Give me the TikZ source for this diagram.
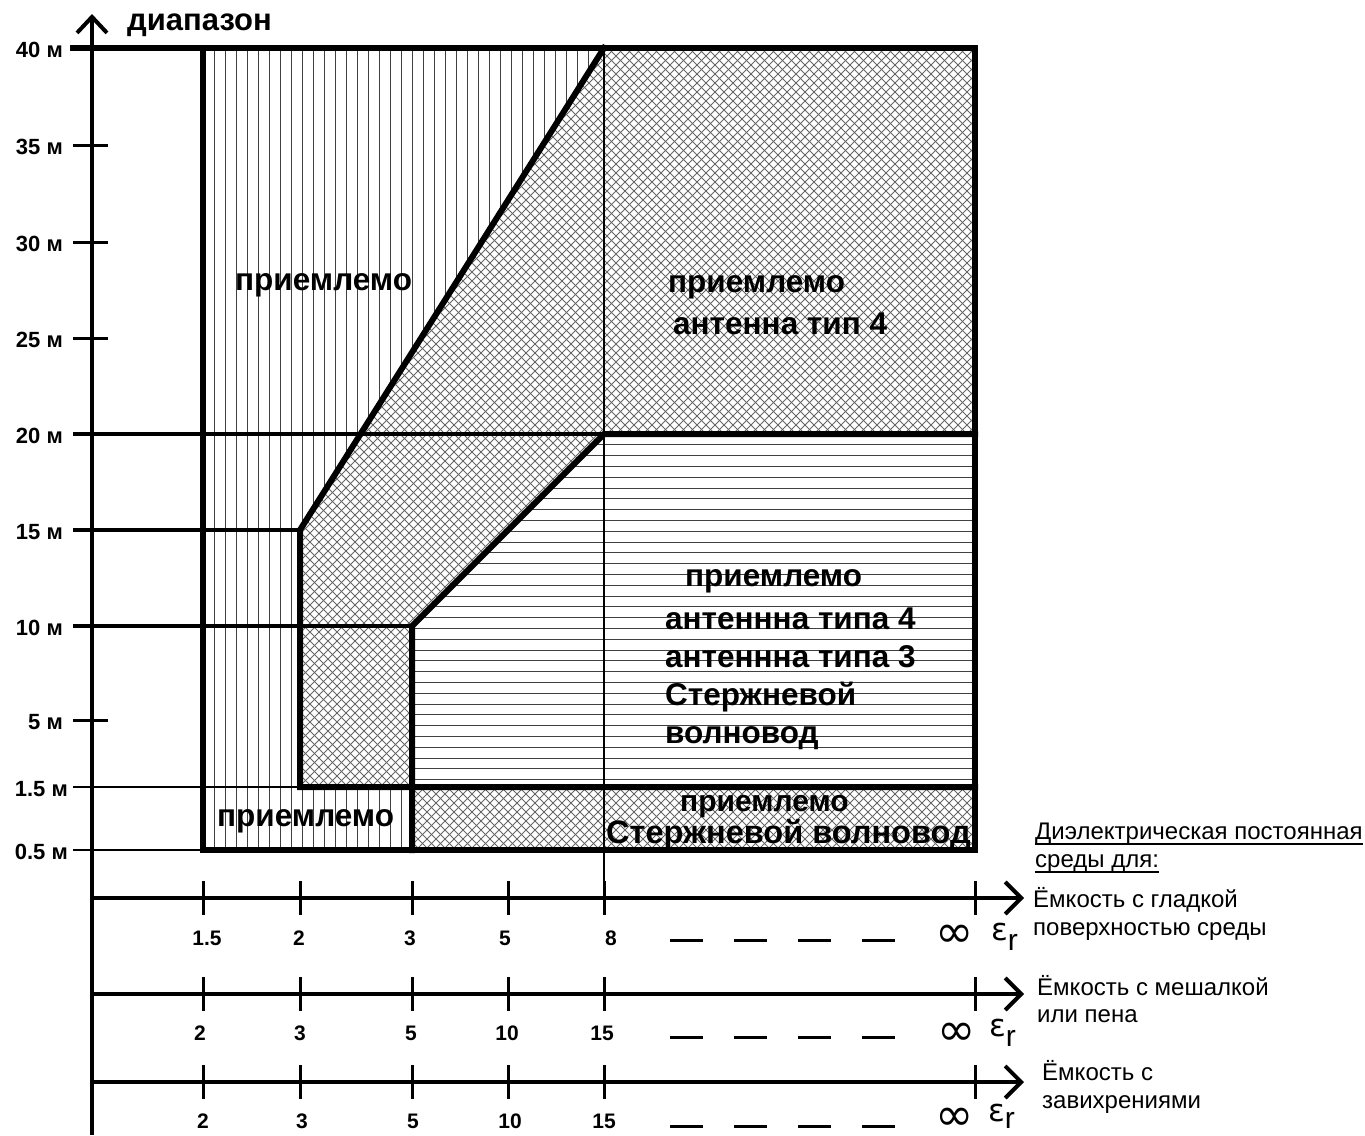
\documentclass[tikz,border=0pt]{standalone}
\usepackage{fontspec}
\setmainfont{Liberation Sans}
\newfontfamily\djv{DejaVu Sans}
\usetikzlibrary{arrows.meta}
\begin{document}
\begin{tikzpicture}[x=1pt,y=-1pt,
  thickl/.style={line width=6pt,line cap=rect,line join=miter},
  medl/.style={line width=3.5pt},
  thinl/.style={line width=2.5pt},
  axisl/.style={line width=4pt,-{Straight Barb[length=16pt,width=32pt,line width=4pt]}},
  tickl/.style={line width=3pt},
  vhatch/.style={line width=0.9pt,black!75},
  hhatch/.style={line width=0.9pt,black!75},
  xhatch/.style={line width=0.85pt,black!60},
  dashl/.style={line width=3pt,dash pattern=on 33pt off 31pt},
  lbl/.style={font=\fontsize{31.5}{33}\bfseries\selectfont,inner sep=0pt},
  ylbl/.style={font=\fontsize{22}{24}\bfseries\selectfont,inner sep=0pt,anchor=east},
  nlbl/.style={font=\fontsize{21}{23}\bfseries\selectfont,inner sep=0pt},
  rlbl/.style={font=\fontsize{24}{26}\selectfont,inner sep=0pt,anchor=base west},
  inf/.style={font=\fontsize{46}{46}\djv\selectfont,inner sep=0pt},
  eps/.style={inner sep=0pt}
]
\useasboundingbox (0,0) rectangle (1365,1135);

% ---------- hatching ----------
\begin{scope}
\clip (203,48) -- (604,48) -- (300,530) -- (300,787) -- (412,787) -- (412,850) -- (203,850) -- cycle;
\foreach \x in {214,225,...,610} \draw[vhatch] (\x,40) -- (\x,860);
\end{scope}

\begin{scope}
\clip (604,48) -- (975,48) -- (975,434) -- (604,434) -- (412,626) -- (412,787) -- (300,787) -- (300,530) -- cycle
      (412,787) -- (975,787) -- (975,850) -- (412,850) -- cycle;
\foreach \c in {-520,-511,...,940} \draw[xhatch] (\c,0) -- ++(1000,1000);
\foreach \c in {330,339,...,1840} \draw[xhatch] (\c,0) -- ++(-1000,1000);
\end{scope}

\begin{scope}
\clip (604,434) -- (975,434) -- (975,787) -- (412,787) -- (412,626) -- cycle;
\foreach \i in {1,...,33} \draw[hhatch] (400,{434+10.8*\i}) -- (985,{434+10.8*\i});
\end{scope}

% ---------- grid lines ----------
\draw[medl] (73,434) -- (604,434);
\draw[medl] (73,530) -- (300,530);
\draw[medl] (73,626) -- (412,626);
\draw[thinl] (73,787) -- (300,787);
\draw[thinl] (73,850) -- (203,850);
\foreach \y in {145,242,338,720} \draw[tickl] (73,\y) -- (108,\y);
\draw[thinl] (604,48) -- (604,898);

% ---------- thick boundaries ----------
\draw[thickl] (73,48) -- (975,48) -- (975,850) -- (203,850) -- (203,48);
\draw[thickl] (604,48) -- (300,530) -- (300,787) -- (975,787);
\draw[thickl] (412,850) -- (412,626) -- (604,434) -- (975,434);

% ---------- axes ----------
\coordinate (yb) at (92,1135);
\coordinate (yt) at (92,14);
\draw[axisl,-{Straight Barb[length=16pt,width=30pt,line width=4pt]}] (yb) -- (yt);
\foreach \r/\y in {1/898,2/994,3/1082} {
  \coordinate (xs\r) at (92,\y);
  \coordinate (xe\r) at (1024,\y);
  \draw[axisl] (xs\r) -- (xe\r);
  \foreach \x in {203,300,412,508,604,975} \draw[tickl] (\x,\y-17) -- (\x,\y+17);
}

\node[anchor=base west,font=\fontsize{31}{33}\bfseries\selectfont,inner sep=0pt] (title) at (127,30) {диапазон};

% y labels
\node[ylbl] (l40) at (63,50) {40 м};
\node[ylbl] (l35) at (63,147) {35 м};
\node[ylbl] (l30) at (63,244) {30 м};
\node[ylbl] (l25) at (63,340) {25 м};
\node[ylbl] (l20) at (63,436) {20 м};
\node[ylbl] (l15) at (63,532) {15 м};
\node[ylbl] (l10) at (63,628) {10 м};
\node[ylbl] (l5) at (63,722) {5 м};
\node[ylbl] (l15b) at (68,789) {1.5 м};
\node[ylbl] (l05) at (68,852) {0.5 м};

% region labels
\node[lbl,anchor=base west] (r1) at (235,290) {приемлемо};
\node[lbl,anchor=base west] (r2a) at (668,292) {приемлемо};
\node[lbl,anchor=base west] (r2b) at (673,334) {антенна тип 4};
\node[lbl,anchor=base west] (r3a) at (685,586) {приемлемо};
\node[lbl,anchor=base west] (r3b) at (665,629) {антеннна типа 4};
\node[lbl,anchor=base west] (r3c) at (665,667) {антеннна типа 3};
\node[lbl,anchor=base west] (r3d) at (665,705) {Стержневой};
\node[lbl,anchor=base west] (r3e) at (665,743) {волновод};
\node[lbl,anchor=base west] (r4) at (217,826) {приемлемо};
\node[lbl,anchor=base west,font=\fontsize{30}{31}\bfseries\selectfont] (r5a) at (680,811) {приемлемо};
\node[lbl,anchor=base west,font=\fontsize{32.5}{34}\bfseries\selectfont] (r5b) at (606,843) {Стержневой волновод};

% axis numbers
\foreach \t/\x in {1.5/207,2/299,3/410,5/505,8/611} \node[nlbl] at (\x,938) {\t};
\foreach \t/\x in {2/200,3/300,5/411,10/507,15/602} \node[nlbl] at (\x,1033) {\t};
\foreach \t/\x in {2/203,3/302,5/413,10/510,15/604} \node[nlbl] at (\x,1121) {\t};
\foreach \y in {940,1037,1126} \draw[dashl] (670,\y) -- (897,\y);
\node[inf] (inf1) at (955,936) {∞};
\node[inf] (inf2) at (957,1034) {∞};
\node[inf] (inf3) at (955,1119) {∞};
\node[eps,anchor=base west] (eps1) at (991,940) {{\djv\fontsize{31}{31}\selectfont ε}\raisebox{-10pt}{\fontsize{30}{30}\selectfont r}};
\node[eps,anchor=base west] (eps2) at (989,1036) {{\djv\fontsize{31}{31}\selectfont ε}\raisebox{-10pt}{\fontsize{30}{30}\selectfont r}};
\node[eps,anchor=base west] (eps3) at (988,1121) {{\djv\fontsize{31}{31}\selectfont ε}\raisebox{-7pt}{\fontsize{30}{30}\selectfont r}};

% right texts
\node[rlbl] (d1) at (1035,839) {Диэлектрическая постоянная};
\node[rlbl] (d2) at (1035,867) {среды для:};
\draw[line width=1.5pt] ([yshift=-5pt]d1.base west) -- ([yshift=-5pt]d1.base east);
\draw[line width=1.5pt] ([yshift=-5pt]d2.base west) -- ([yshift=-5pt]d2.base east);
\node[rlbl] (e1) at (1033,907) {Ёмкость с гладкой};
\node[rlbl] (e2) at (1033,935) {поверхностью среды};
\node[rlbl] (f1) at (1037,995) {Ёмкость с мешалкой};
\node[rlbl] (f2) at (1037,1022) {или пена};
\node[rlbl] (g1) at (1042,1080) {Ёмкость с};
\node[rlbl] (g2) at (1042,1108) {завихрениями};
\end{tikzpicture}
\end{document}
